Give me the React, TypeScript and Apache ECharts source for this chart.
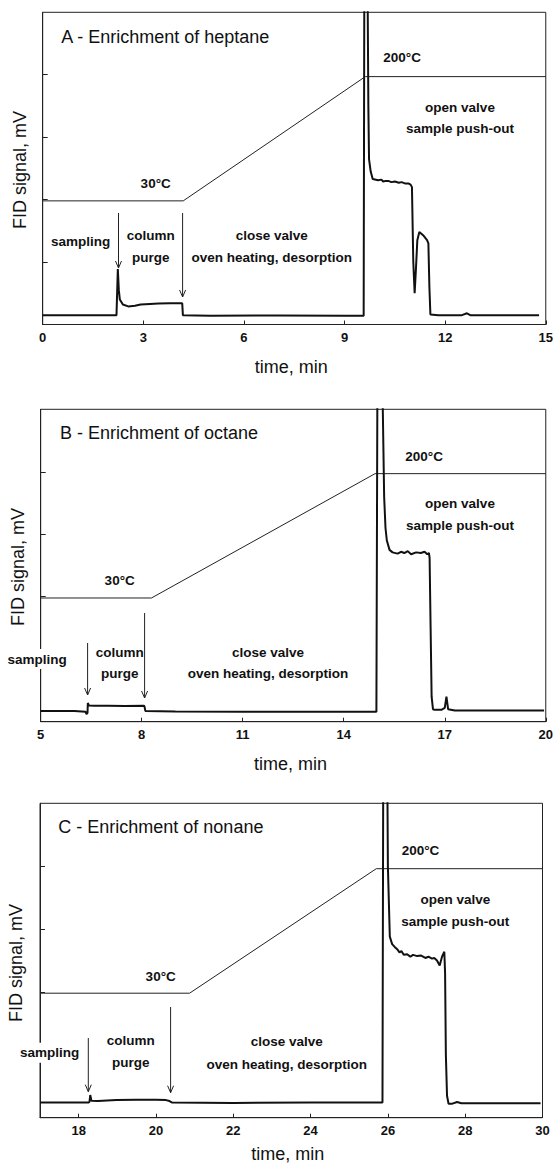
import React, { useEffect, useRef } from "react";
import * as echarts from "echarts";

// ---- data (time in min, signal in arbitrary axis units 0..5) ----
const sigA: number[][] = [
  [0, 0.15], [1.0, 0.15], [2.2, 0.15], [2.22, 0.15], [2.24, 0.89], [2.27, 0.55], [2.3, 0.4],
  [2.39, 0.32], [2.55, 0.29], [2.75, 0.3], [2.92, 0.32], [3.2, 0.33], [3.45, 0.335], [3.8, 0.34],
  [4.13, 0.34], [4.16, 0.34], [4.18, 0.15], [5, 0.14], [7, 0.145], [9, 0.14], [9.57, 0.14],
  [9.59, 5.5], [9.63, 8], [9.68, 6], [9.71, 3.5], [9.73, 2.65], [9.78, 2.45], [9.84, 2.33],
  [10.0, 2.31], [10.1, 2.32], [10.15, 2.29], [10.23, 2.3], [10.3, 2.3], [10.4, 2.28], [10.5, 2.29],
  [10.62, 2.27], [10.7, 2.28], [10.8, 2.26], [10.9, 2.26], [10.97, 2.24], [11.01, 2.2], [11.05, 1.0],
  [11.09, 0.5], [11.13, 0.9], [11.17, 1.35], [11.23, 1.48], [11.3, 1.45], [11.36, 1.42], [11.46, 1.35],
  [11.5, 1.3], [11.53, 0.6], [11.56, 0.16], [11.8, 0.15], [12.5, 0.15], [12.65, 0.18], [12.75, 0.15],
  [14.8, 0.15],
];
const sigB: number[][] = [
  [5, 0.17], [6.0, 0.17], [6.33, 0.16], [6.36, 0.12], [6.39, 0.14], [6.4, 0.3], [6.43, 0.26],
  [6.6, 0.255], [7.0, 0.255], [7.5, 0.25], [8.05, 0.255], [8.08, 0.25], [8.11, 0.17], [9, 0.165],
  [11, 0.16], [13, 0.16], [14.97, 0.16], [15.0, 5.5], [15.06, 8], [15.12, 7], [15.16, 5.0],
  [15.2, 3.6], [15.24, 3.1], [15.28, 2.9], [15.36, 2.75], [15.45, 2.71], [15.6, 2.69], [15.7, 2.72],
  [15.8, 2.7], [15.9, 2.73], [16.0, 2.68], [16.15, 2.71], [16.29, 2.7], [16.4, 2.72], [16.48, 2.68],
  [16.53, 2.7], [16.55, 2.62], [16.58, 1.5], [16.61, 0.4], [16.65, 0.2], [16.7, 0.19], [16.9, 0.19],
  [17.0, 0.22], [17.05, 0.4], [17.1, 0.2], [17.3, 0.18], [18, 0.18], [19.95, 0.18],
];
const sigC: number[][] = [
  [17, 0.24], [18.25, 0.24], [18.28, 0.25], [18.3, 0.36], [18.33, 0.27], [18.5, 0.265], [18.98, 0.28],
  [19.5, 0.285], [20.0, 0.285], [20.26, 0.28], [20.35, 0.265], [20.42, 0.24], [22, 0.235], [24, 0.24],
  [25.86, 0.24], [25.88, 5.5], [25.94, 8], [25.98, 6], [26.0, 4.0], [26.05, 2.88], [26.11, 2.76],
  [26.17, 2.72], [26.24, 2.68], [26.3, 2.63], [26.35, 2.65], [26.41, 2.59], [26.5, 2.6], [26.58, 2.56],
  [26.65, 2.59], [26.76, 2.57], [26.85, 2.58], [26.97, 2.54], [27.05, 2.56], [27.14, 2.53], [27.2, 2.54],
  [27.27, 2.5], [27.34, 2.42], [27.4, 2.56], [27.46, 2.64], [27.48, 2.3], [27.5, 1.0], [27.53, 0.35],
  [27.57, 0.22], [27.65, 0.22], [27.79, 0.25], [27.9, 0.23], [29.95, 0.23],
];
const tempA: number[][] = [[0, 1.98], [4.19, 1.98], [9.62, 3.97], [15, 3.97]];
const tempB: number[][] = [[5, 1.98], [8.29, 1.98], [14.93, 3.97], [20, 3.97]];
const tempC: number[][] = [[17, 1.98], [20.87, 1.98], [25.7, 3.96], [30, 3.96]];

const ticksA = [0, 3, 6, 9, 12, 15];
const ticksB = [5, 8, 11, 14, 17, 20];
const ticksC = [18, 20, 22, 24, 26, 28, 30];
const yTicks = [1, 2, 3, 4];
const titles = ["A - Enrichment of heptane", "B - Enrichment of octane", "C - Enrichment of nonane"];

const FONT = "'Liberation Sans', Arial, Helvetica, sans-serif";

export default function App() {
  const ref = useRef<HTMLDivElement>(null);
  useEffect(() => {
    if (!ref.current) return;
    const chart = echarts.init(ref.current, null, { renderer: "svg" });

    const grids = [
      { left: 42.7, top: 12.3, width: 504.3, height: 312.2 },
      { left: 40.7, top: 409.3, width: 505.8, height: 312.4 },
      { left: 40, top: 803.3, width: 502.5, height: 314.4 },
    ];
    const ranges = [[0, 15], [5, 20], [17, 30]];
    const xticks = [ticksA, ticksB, ticksC];
    const sigs = [sigA, sigB, sigC];
    const temps = [tempA, tempB, tempC];

    const txt = (x: number, y: number, text: string, size: number, bold: boolean, align = "center", extra: any = {}) => ({
      type: "text",
      x,
      y,
      z: 100,
      style: {
        text,
        fontSize: size,
        fontWeight: bold ? "bold" : "normal",
        fontFamily: FONT,
        fill: "#111",
        align,
        verticalAlign: "middle",
        ...extra,
      },
    });
    const arrow = (x: number, y1: number, y2: number) => [
      { type: "line", z: 100, shape: { x1: x, y1, x2: x, y2 }, style: { stroke: "#222", lineWidth: 1 } },
      {
        type: "polyline",
        z: 100,
        shape: { points: [[x - 3, y2 - 7], [x, y2], [x + 3, y2 - 7]] },
        style: { stroke: "#222", lineWidth: 1, fill: "none" },
      },
    ];

    const panelText = [
      {
        title: [61.2, 37], t200: [383.3, 57], t30: [155.7, 183], open: [460, 107, 128],
        close: [271.8, 235, 257], samp: [80.6, 241], col: [150.7, 235, 257],
        arrows: [[118.5, 213, 268], [182.6, 213, 297]], yname: [20.4, 170], xname: [291.2, 367], sbg: false,
      },
      {
        title: [59.9, 433], t200: [405.3, 456], t30: [119.7, 580], open: [460, 503, 525],
        close: [268, 652, 673], samp: [37.2, 659], col: [119.7, 652, 673],
        arrows: [[87.6, 643, 695], [144.6, 613, 698]], yname: [18.3, 567], xname: [290.4, 764], sbg: true,
      },
      {
        title: [58.3, 827], t200: [401.7, 850], t30: [160.7, 976], open: [455.3, 899, 921],
        close: [286.7, 1041.7, 1064], samp: [49.5, 1052.7], col: [130.7, 1040.7, 1062.7],
        arrows: [[88.3, 1038, 1091.7], [170.6, 1007, 1092.7]], yname: [16, 963], xname: [287.7, 1154], sbg: true,
      },
    ];

    const graphic: any[] = [];
    panelText.forEach((p, i) => {
      graphic.push(txt(p.title[0], p.title[1], titles[i], 18, false, "left"));
      graphic.push(txt(p.t200[0], p.t200[1], "200°C", 13.5, true, "left"));
      graphic.push(txt(p.t30[0], p.t30[1], "30°C", 13.5, true));
      graphic.push(txt(p.open[0], p.open[1], "open valve", 13.5, true));
      graphic.push(txt(p.open[0], p.open[2], "sample push-out", 13.5, true));
      graphic.push(txt(p.close[0], p.close[1], "close valve", 13.5, true));
      graphic.push(txt(p.close[0], p.close[2], "oven heating, desorption", 13.5, true));
      graphic.push(
        txt(p.samp[0], p.samp[1], "sampling", 13.5, true, "center", p.sbg ? { backgroundColor: "#fff", padding: [3, 1] } : {})
      );
      graphic.push(txt(p.col[0], p.col[1], "column", 13.5, true));
      graphic.push(txt(p.col[0], p.col[2], "purge", 13.5, true));
      p.arrows.forEach((a) => graphic.push(...arrow(a[0], a[1], a[2])));
      graphic.push({
        type: "text",
        x: p.yname[0],
        y: p.yname[1],
        rotation: Math.PI / 2,
        z: 100,
        style: { text: "FID signal, mV", fontSize: 18, fontFamily: FONT, fill: "#111", align: "center", verticalAlign: "middle" },
      });
      graphic.push(txt(p.xname[0], p.xname[1], "time, min", 18, false));
    });

    chart.setOption({
      animation: false,
      backgroundColor: "#fff",
      grid: grids.map((g) => ({ ...g, show: true, borderColor: "#222", borderWidth: 1, backgroundColor: "transparent" })),
      xAxis: ranges.map((r, i) => ({
        type: "value",
        gridIndex: i,
        min: r[0],
        max: r[1],
        axisLine: { show: true, onZero: false, lineStyle: { color: "#222", width: 1 } },
        axisTick: { show: true, inside: true, length: 4, customValues: xticks[i], lineStyle: { color: "#222" } },
        axisLabel: {
          show: true,
          customValues: xticks[i],
          margin: 6,
          fontSize: 13,
          fontWeight: "bold",
          fontFamily: FONT,
          color: "#111",
        },
        splitLine: { show: false },
      })),
      yAxis: ranges.map((_, i) => ({
        type: "value",
        gridIndex: i,
        min: 0,
        max: 5,
        axisLine: { show: true, onZero: false, lineStyle: { color: "#222", width: 1 } },
        axisTick: { show: true, inside: true, length: 5, customValues: yTicks, lineStyle: { color: "#222" } },
        axisLabel: { show: false },
        splitLine: { show: false },
      })),
      series: [
        ...sigs.map((d, i) => ({
          type: "line",
          xAxisIndex: i,
          yAxisIndex: i,
          data: d,
          showSymbol: false,
          symbol: "none",
          clip: true,
          lineStyle: { color: "#111", width: 2 },
          z: 3,
        })),
        ...temps.map((d, i) => ({
          type: "line",
          xAxisIndex: i,
          yAxisIndex: i,
          data: d,
          showSymbol: false,
          symbol: "none",
          clip: true,
          lineStyle: { color: "#222", width: 1 },
          z: 2,
        })),
      ],
      graphic,
    });
    return () => chart.dispose();
  }, []);
  return <div ref={ref} style={{ position: "absolute", left: 0, top: 0, width: 556, height: 1166 }} />;
}
